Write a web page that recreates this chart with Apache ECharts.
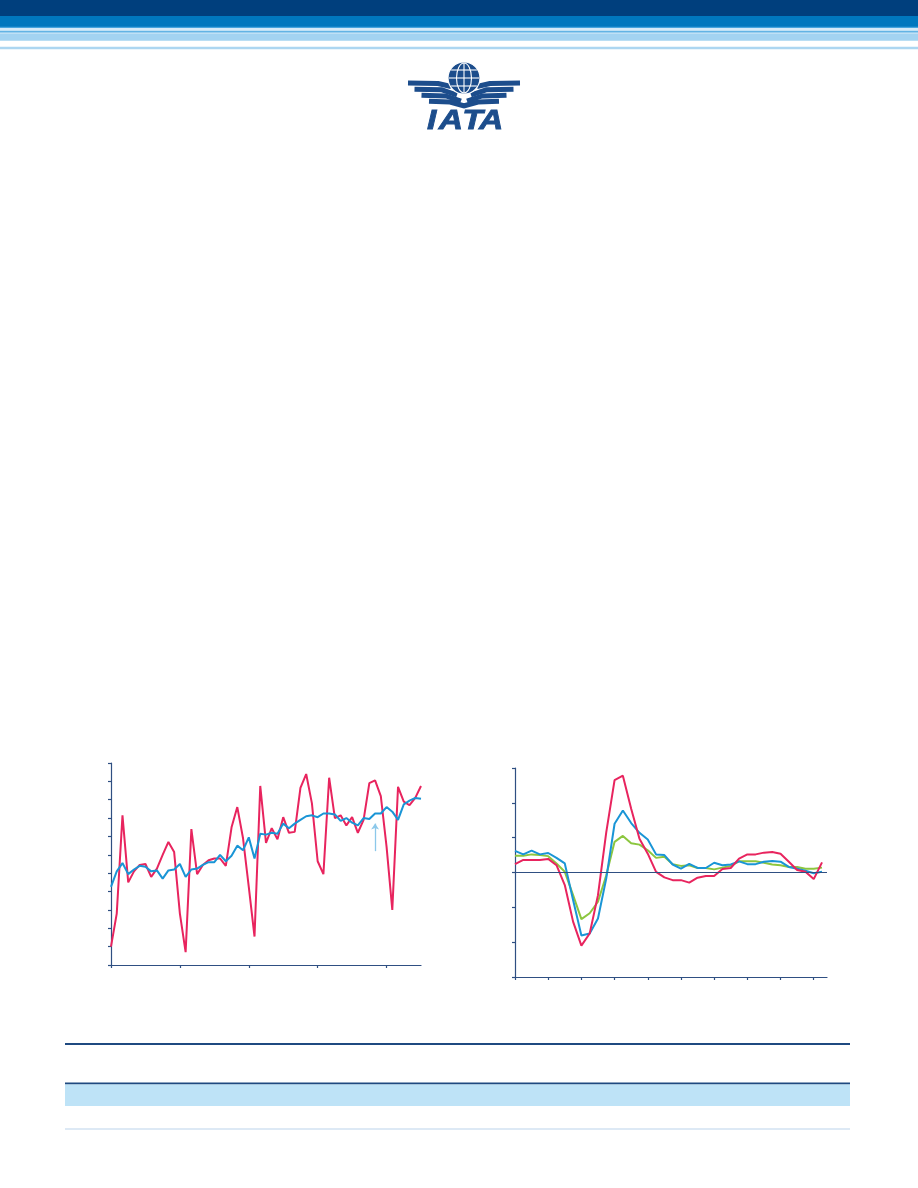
<!DOCTYPE html>
<html>
<head>
<meta charset="utf-8">
<title>IATA</title>
<script src="https://cdn.jsdelivr.net/npm/echarts@6/dist/echarts.min.js"></script>
<style>
  html, body { margin: 0; padding: 0; background: #fff; }
  #page { width: 918px; height: 1188px; }
</style>
</head>
<body>
<div id="page"></div>
<script>
// left chart: monthly values (55 months), ticks every 12 months
const monthNames = ['Jan', 'Feb', 'Mar', 'Apr', 'May', 'Jun', 'Jul', 'Aug', 'Sep', 'Oct', 'Nov', 'Dec']
const monthCount = 55
const leftCategories = []
for (let i = 0; i < monthCount; i++) {
  leftCategories.push(monthNames[i % 12] + ' ' + (1 + Math.floor(i / 12)))
}
const leftActual = [
  390, 408, 461.5, 425, 431, 434.5, 435, 428, 432.5, 440,
  447, 441.5, 408, 387, 454, 429.5, 434.5, 437, 438, 438,
  434, 455, 466, 449, 422.5, 395.5, 477.5, 446.5, 454.5, 448.5,
  460.5, 452, 452.5, 476.5, 484, 468, 436.5, 429.5, 482, 460,
  461.5, 456, 460.5, 452, 459, 479, 480.5, 472, 444.5, 410,
  477, 469, 467, 471, 477.5
]
const leftAdjusted = [
  422.5, 431, 435.5, 429.5, 432, 434, 433.5, 431, 431.5, 427,
  431.5, 432, 435, 428, 432, 432.5, 434.5, 436, 436, 440,
  436.5, 439.5, 445, 442.5, 449.5, 438, 451.5, 451, 452, 451.5,
  457, 454.5, 457, 459, 461, 461.5, 460.5, 462.5, 462.5, 462,
  458.5, 460, 457.5, 456, 460, 459.5, 462.5, 462.5, 466, 463.5,
  459, 467.5, 469.5, 471, 470.5
]
const leftArrowIndex = 46
const leftArrowFrom = 442
const leftArrowTo = 457

// right chart: quarterly growth, three series (38 quarters)
const rightRed = [
  2.4, 3.6, 3.6, 3.6, 3.9, 2.1, -3.6, -14.1, -21, -17.5,
  -6.5, 11.6, 26.5, 27.8, 18.3, 9.7, 5.4, 0.2, -1.4, -2.2,
  -2.2, -2.9, -1.5, -1, -1, 1, 1.3, 4, 5.2, 5.2,
  5.7, 5.9, 5.4, 3.1, 0.7, 0.2, -1.9, 2.9
]
const rightBlue = [
  6.2, 5.2, 6.3, 5.2, 5.6, 4.2, 2.6, -7.9, -18.1, -17.5,
  -13.2, -1.7, 14, 17.8, 14.2, 11.4, 9.5, 5.2, 5, 2.3,
  1.1, 2.5, 1.3, 1.3, 2.8, 2.1, 2.3, 3.2, 2.4, 2.4,
  3.1, 3.3, 3.1, 1.6, 1.1, 0.5, -0.2, 0.2
]
const rightGreen = [
  4.8, 4.8, 5.2, 5, 4.7, 2.6, 0.2, -6.5, -13.4, -11.7,
  -8.4, -0.8, 8.8, 10.5, 8.4, 8, 6.4, 4.2, 4.5, 2.4,
  1.9, 2.1, 1.3, 1.3, 0.9, 1.4, 1.9, 3.2, 3.2, 3.2,
  2.8, 2.3, 2.1, 1.6, 1.6, 1.1, 1.1, 1.4
]
const rightTicks = [0, 4, 8, 12, 16, 20, 24, 28, 32, 36]

const NAVY = '#2f4f82'
const RED = '#e8245e'
const BLUE = '#1995d6'
const GREEN = '#8cc63f'
const LOGO = '#1c4d8c'

const toPairs = arr => arr.map((v, i) => [i, v])

// ---------- page furniture: header bands, logo, table rules ----------
const rect = (x, y, w, h, fill) => ({
  type: 'rect', silent: true, shape: { x, y, width: w, height: h }, style: { fill }
})

const headerBands = [
  rect(0, 0, 918, 16, '#003f7d'),
  rect(0, 16, 918, 11, '#0077be'),
  rect(0, 26.7, 918, 1.5, '#45a5de'),
  rect(0, 28.2, 918, 2.5, '#d4eaf8'),
  rect(0, 30.7, 918, 2, '#62b3e4'),
  rect(0, 32.7, 918, 1, '#cfe7f7'),
  rect(0, 33.5, 918, 7.3, '#a3d3f1'),
  rect(0, 46.7, 918, 2.6, '#acd6f1')
]

// IATA logo: globe, two striped wings, lettering
const gx = 464, gy = 78, gr = 16
const wingStripes = [
  [[408, 83], [438, 83.5], [451, 86.5]],
  [[414.5, 89.2], [442, 89.8], [457, 95]],
  [[421.5, 95.2], [446, 96], [461, 101]],
  [[429, 101.3], [450, 102], [464.5, 106]]
]
const logo = []
wingStripes.forEach(pts => {
  logo.push({
    type: 'polyline', silent: true, shape: { points: pts },
    style: { stroke: LOGO, lineWidth: 5, fill: null, lineJoin: 'round' }
  })
  logo.push({
    type: 'polyline', silent: true, shape: { points: pts.map(p => [2 * gx - p[0], p[1]]) },
    style: { stroke: LOGO, lineWidth: 5, fill: null, lineJoin: 'round' }
  })
})
logo.push({
  type: 'circle', silent: true, shape: { cx: gx, cy: gy, r: gr },
  style: { fill: LOGO, stroke: '#fff', lineWidth: 1.2 }
})
logo.push({
  type: 'ellipse', silent: true, shape: { cx: gx, cy: gy, rx: 7.5, ry: gr - 1 },
  style: { fill: null, stroke: '#fff', lineWidth: 1.1 }
})
logo.push({
  type: 'line', silent: true, shape: { x1: gx, y1: gy - gr + 1, x2: gx, y2: gy + gr - 1 },
  style: { stroke: '#fff', lineWidth: 1.1 }
})
;[-8, 0, 8].forEach(dy => {
  const half = Math.sqrt(gr * gr - dy * dy) - 1
  logo.push({
    type: 'line', silent: true, shape: { x1: gx - half, y1: gy + dy, x2: gx + half, y2: gy + dy },
    style: { stroke: '#fff', lineWidth: 1.1 }
  })
})
const letters = [['I', 431.6], ['A', 450.8], ['T', 472.5], ['A', 491.2]]
letters.forEach(([ch, cx]) => {
  logo.push({
    type: 'text', silent: true, x: cx, y: 121.5, scaleX: 1.2,
    style: {
      text: ch, fill: LOGO, stroke: LOGO, lineWidth: 0.8,
      font: 'italic bold 28px "Liberation Sans", Arial, sans-serif',
      align: 'center', verticalAlign: 'middle'
    }
  })
})

const tableRules = [
  rect(65, 1043, 785, 2, '#1f4a80'),
  rect(65, 1082.5, 785, 2, '#1f4a80'),
  rect(65, 1084.5, 785, 21.5, '#bee3f7'),
  rect(65, 1128, 785, 2, '#dde9f5')
]

// ---------- charts ----------
const chart = echarts.init(document.getElementById('page'))

const hiddenLabel = { show: false }
const axisLine = { lineStyle: { color: NAVY, width: 1.2 } }
const axisTick = { length: 3, lineStyle: { color: NAVY, width: 1.2 } }

const option = {
  backgroundColor: '#fff',
  animation: false,
  graphic: [...headerBands, ...logo, ...tableRules],
  grid: [
    { left: 111, top: 763, width: 310, height: 202 },
    { left: 515, top: 768, width: 312, height: 209 }
  ],
  xAxis: [
    {
      gridIndex: 0,
      type: 'category',
      data: leftCategories,
      boundaryGap: false,
      axisLine,
      axisTick: { ...axisTick, interval: 11 },
      axisLabel: hiddenLabel,
      splitLine: { show: false }
    },
    {
      gridIndex: 1,
      type: 'value',
      min: 0,
      max: 37.6,
      axisLine: { ...axisLine, onZero: false },
      axisTick: { ...axisTick, customValues: rightTicks },
      axisLabel: hiddenLabel,
      splitLine: { show: false }
    }
  ],
  yAxis: [
    {
      gridIndex: 0,
      type: 'value',
      min: 380,
      max: 490,
      interval: 10,
      axisLine: { show: true, ...axisLine },
      axisTick: { show: true, ...axisTick },
      axisLabel: hiddenLabel,
      splitLine: { show: false }
    },
    {
      gridIndex: 1,
      type: 'value',
      min: -30,
      max: 30,
      interval: 10,
      axisLine: { show: true, ...axisLine },
      axisTick: { show: true, ...axisTick },
      axisLabel: hiddenLabel,
      splitLine: { show: false }
    }
  ],
  series: [
    {
      type: 'line',
      xAxisIndex: 0,
      yAxisIndex: 0,
      data: leftActual,
      symbol: 'none',
      lineStyle: { color: RED, width: 2 }
    },
    {
      type: 'line',
      xAxisIndex: 0,
      yAxisIndex: 0,
      data: leftAdjusted,
      symbol: 'none',
      lineStyle: { color: BLUE, width: 2 },
      markLine: {
        silent: true,
        symbol: ['none', 'arrow'],
        symbolSize: 6,
        label: { show: false },
        lineStyle: { color: '#8cc8ea', width: 1.3, type: 'solid' },
        data: [[
          { coord: [leftCategories[leftArrowIndex], leftArrowFrom] },
          { coord: [leftCategories[leftArrowIndex], leftArrowTo] }
        ]]
      }
    },
    {
      type: 'line',
      xAxisIndex: 1,
      yAxisIndex: 1,
      data: toPairs(rightGreen),
      symbol: 'none',
      lineStyle: { color: GREEN, width: 2 },
      // zero reference line
      markLine: {
        silent: true,
        symbol: 'none',
        label: { show: false },
        lineStyle: { color: NAVY, width: 1.2, type: 'solid' },
        data: [{ yAxis: 0 }]
      }
    },
    {
      type: 'line',
      xAxisIndex: 1,
      yAxisIndex: 1,
      data: toPairs(rightBlue),
      symbol: 'none',
      lineStyle: { color: BLUE, width: 2 }
    },
    {
      type: 'line',
      xAxisIndex: 1,
      yAxisIndex: 1,
      data: toPairs(rightRed),
      symbol: 'none',
      lineStyle: { color: RED, width: 2 }
    }
  ]
}

chart.setOption(option)
</script>
</body>
</html>
